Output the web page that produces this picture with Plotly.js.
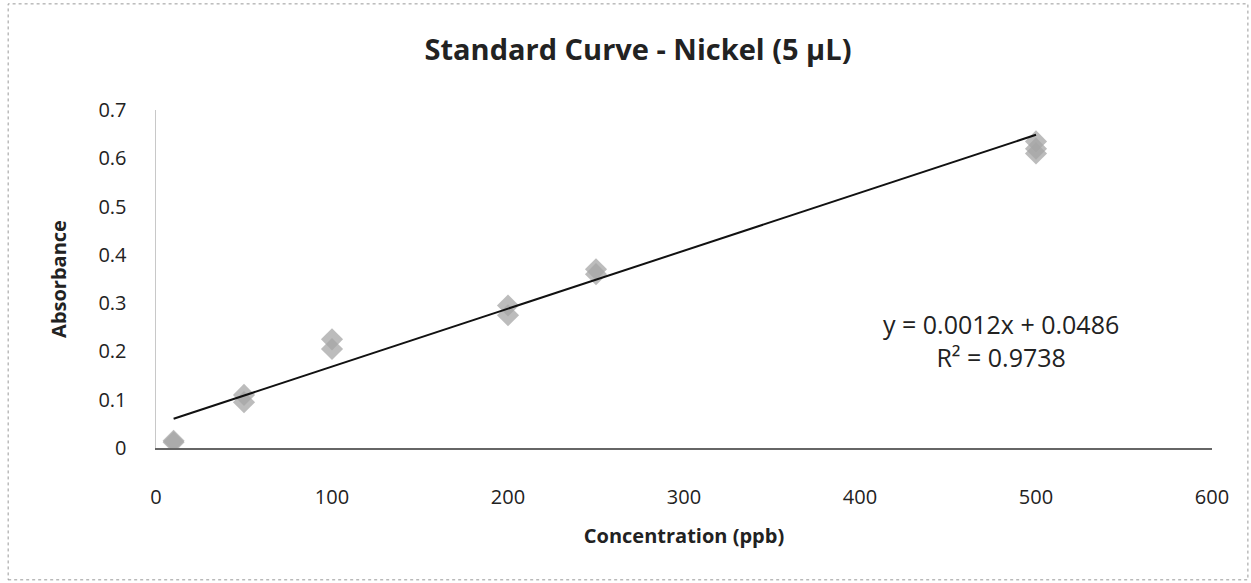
<!DOCTYPE html>
<html>
<head>
<meta charset="utf-8">
<script src="https://cdn.plot.ly/plotly-3.0.1.min.js"></script>
<style>html,body{margin:0;padding:0;background:#fff;}#chart{width:1251px;height:583px;}</style>
</head>
<body>
<div id="chart"></div>
<script>
// Data
const concentration = [10, 10, 50, 50, 100, 100, 200, 200, 250, 250, 500, 500, 500];
const absorbance   = [0.012, 0.015, 0.11, 0.095, 0.225, 0.205, 0.295, 0.275, 0.37, 0.36, 0.635, 0.62, 0.61];
const trendX = [10, 500];
const trendY = [0.0606, 0.6486];
const xTicks = [0, 100, 200, 300, 400, 500, 600];
const yTicks = [0, 0.1, 0.2, 0.3, 0.4, 0.5, 0.6, 0.7];
const yTickText = ['0', '0.1', '0.2', '0.3', '0.4', '0.5', '0.6', '0.7'];
const equationText = 'y = 0.0012x + 0.0486<br>R² = 0.9738';

const font = 'Open Sans, Noto Sans, sans-serif';

const traces = [
  {
    x: concentration, y: absorbance, type: 'scatter', mode: 'markers',
    marker: {symbol: 'diamond', size: 17, color: 'rgba(165,165,165,0.75)', line: {width: 0}},
    hoverinfo: 'skip', showlegend: false
  },
  {
    x: trendX, y: trendY, type: 'scatter', mode: 'lines',
    line: {color: '#111', width: 2}, hoverinfo: 'skip', showlegend: false
  }
];

const layout = {
  width: 1251, height: 583,
  margin: {l: 156, r: 39, t: 110, b: 135},
  paper_bgcolor: '#fff', plot_bgcolor: '#fff',
  font: {family: font, color: '#222'},
  title: {text: '<b>Standard Curve - Nickel (5 µL)</b>', x: 0.51, xanchor: 'center', y: 0.915, yanchor: 'middle',
          font: {family: font, size: 29, color: '#222'}},
  xaxis: {
    range: [0, 600], tickvals: xTicks, showgrid: false, zeroline: false,
    showline: true, linecolor: '#666', linewidth: 1.5,
    ticks: '', ticklabelstandoff: 30,
    tickfont: {size: 20, color: '#222'},
    title: {text: '<b>Concentration (ppb)</b>', font: {size: 20, color: '#222'}, standoff: 20}
  },
  yaxis: {
    range: [0, 0.7], tickvals: yTicks, ticktext: yTickText, showgrid: false, zeroline: false,
    showline: true, linecolor: '#c8c8c8', linewidth: 1.5,
    ticks: '', ticklabelstandoff: 24,
    tickfont: {size: 20, color: '#222'},
    title: {text: '<b>Absorbance</b>', font: {size: 20, color: '#222'}, standoff: 26}
  },
  annotations: [
    {x: 480, y: 0.222, xref: 'x', yref: 'y', text: equationText, showarrow: false,
     align: 'center', font: {family: font, size: 25, color: '#222'}}
  ],
  shapes: [
    {type: 'rect', xref: 'paper', yref: 'paper', x0: -0.14, x1: 1.034, y0: -0.39, y1: 1.314,
     line: {color: '#999', width: 1, dash: 'dot'}, layer: 'below'}
  ]
};
Plotly.newPlot('chart', traces, layout, {displayModeBar: false, staticPlot: true});
</script>
</body>
</html>
